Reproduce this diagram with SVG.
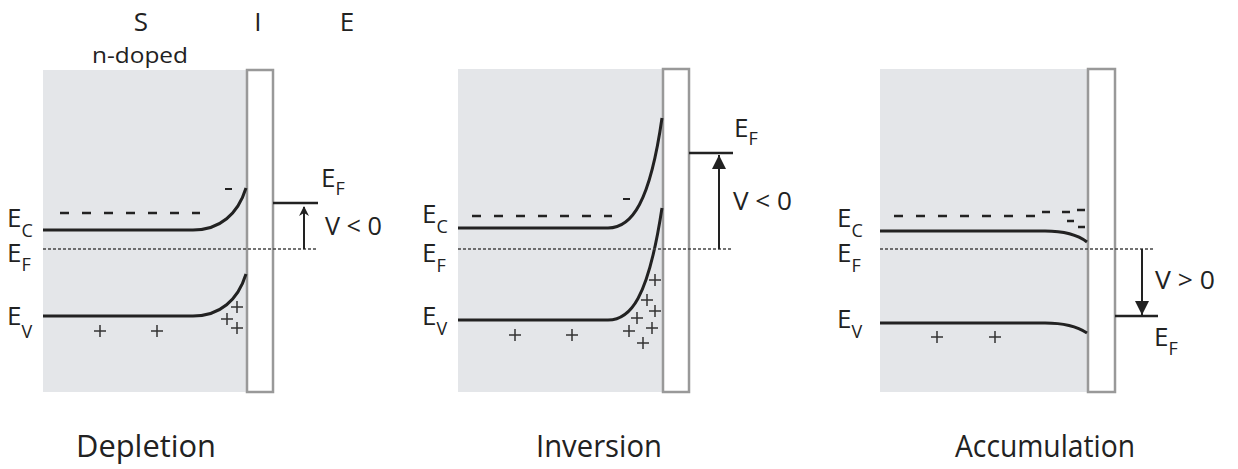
<svg xmlns="http://www.w3.org/2000/svg" width="1238" height="469" viewBox="0 0 1238 469">
<style>
text{font-family:"Open Sans","Liberation Sans",sans-serif;fill:#222}
.big{font-size:26px}
.lab{font-size:26px}
.sub{font-size:18px}
.cap{font-size:31px}
.v{font-size:25px}
.semi{fill:#e4e6e9}
.ins{fill:#fff;stroke:#999;stroke-width:2.5}
.band{fill:none;stroke:#222;stroke-width:3}
.dash{fill:none;stroke:#222;stroke-width:2.5;stroke-dasharray:9 13}
.ef{fill:none;stroke:#444;stroke-width:1.4;stroke-dasharray:3 2}
.lvl{fill:none;stroke:#222;stroke-width:2.5}
.pl{fill:none;stroke:#333;stroke-width:1.5}
.arr{fill:none;stroke:#222;stroke-width:2}
</style>
<defs>
<marker id="ahS" markerWidth="10" markerHeight="10" refX="9" refY="5" orient="auto" markerUnits="userSpaceOnUse"><path d="M0,0 L10,5 L0,10 L3,5 Z" fill="#222"/></marker>
<marker id="ahL" markerWidth="14" markerHeight="14" refX="14" refY="7" orient="auto" markerUnits="userSpaceOnUse"><path d="M0,0 L14,7 L0,14 Z" fill="#222"/></marker>
<path id="plus" d="M-6,0 H6 M0,-6 V6" class="pl"/>
</defs>

<g id="header">
<text class="big" x="141" y="31" text-anchor="middle">S</text>
<text class="big" x="258" y="31" text-anchor="middle">I</text>
<text class="big" x="347" y="31" text-anchor="middle">E</text>
<text x="140" y="63" text-anchor="middle" style="font-size:22px" textLength="96" lengthAdjust="spacingAndGlyphs">n-doped</text>
</g>

<g id="panel-depletion">
<rect class="semi" x="43" y="70" width="204" height="322"/>
<rect class="ins" x="247" y="70" width="26" height="322"/>
<line class="dash" x1="60" y1="213" x2="200" y2="213"/>
<path class="band" d="M43,230 H193 C220,230 238,214 246,188"/>
<path class="band" d="M43,316 H193 C220,316 238,300 246,274"/>
<line class="ef" x1="43" y1="249" x2="318" y2="249"/>
<line class="lvl" x1="273" y1="203" x2="318" y2="203"/>
<line x1="225" y1="189" x2="232" y2="189" stroke="#222" stroke-width="2"/>
<use href="#plus" x="100" y="331"/>
<use href="#plus" x="157" y="331"/>
<use href="#plus" x="237" y="307"/>
<use href="#plus" x="227" y="319"/>
<use href="#plus" x="237" y="328"/>
<text class="lab" x="7" y="227">E<tspan class="sub" dy="10">C</tspan></text>
<text class="lab" x="7" y="262">E<tspan class="sub" dy="9">F</tspan></text>
<text class="lab" x="7" y="325">E<tspan class="sub" dy="13">V</tspan></text>
<text class="lab" x="321" y="187">E<tspan class="sub" dy="8">F</tspan></text>
<text class="v" x="325" y="235" textLength="57" lengthAdjust="spacingAndGlyphs">V &lt; 0</text>
<text class="cap" x="146" y="457" text-anchor="middle" textLength="140" lengthAdjust="spacingAndGlyphs">Depletion</text>
</g>

<g id="panel-inversion">
<rect class="semi" x="458" y="69" width="205" height="323"/>
<rect class="ins" x="663" y="69" width="26" height="323"/>
<line class="dash" x1="472" y1="216" x2="612" y2="216"/>
<path class="band" d="M458,228 H608 C632,228 650,202 662,118"/>
<path class="band" d="M458,320 H608 C630,320 648,300 662,208"/>
<line class="ef" x1="458" y1="249" x2="733" y2="249"/>
<line class="lvl" x1="689" y1="153" x2="733" y2="153"/>
<line x1="623" y1="199" x2="630" y2="199" stroke="#222" stroke-width="2"/>
<use href="#plus" x="515" y="335"/>
<use href="#plus" x="572" y="335"/>
<use href="#plus" x="655" y="280"/>
<use href="#plus" x="647" y="300"/>
<use href="#plus" x="655" y="311"/>
<use href="#plus" x="637" y="318"/>
<use href="#plus" x="652" y="328"/>
<use href="#plus" x="629" y="331"/>
<use href="#plus" x="643" y="343"/>
<text class="lab" x="422" y="223">E<tspan class="sub" dy="10">C</tspan></text>
<text class="lab" x="422" y="262">E<tspan class="sub" dy="10">F</tspan></text>
<text class="lab" x="422" y="325">E<tspan class="sub" dy="10">V</tspan></text>
<text class="lab" x="734" y="137">E<tspan class="sub" dy="8">F</tspan></text>
<text class="v" x="733" y="210" textLength="59" lengthAdjust="spacingAndGlyphs">V &lt; 0</text>
<text class="cap" x="599" y="457" text-anchor="middle" textLength="126" lengthAdjust="spacingAndGlyphs">Inversion</text>
</g>

<g id="panel-accumulation">
<rect class="semi" x="880" y="69" width="208" height="323"/>
<rect class="ins" x="1088" y="69" width="27" height="323"/>
<line class="dash" x1="894" y1="216" x2="1036" y2="216"/>
<path d="M1042,212 H1050 M1062,212 H1070 M1077,210 H1085 M1067,221 H1074 M1078,227 H1085" fill="none" stroke="#222" stroke-width="2.5"/>
<path class="band" d="M880,231 H1045 C1065,231 1078,235 1087,242"/>
<path class="band" d="M880,323 H1045 C1065,323 1078,327 1087,333"/>
<line class="ef" x1="880" y1="249" x2="1153" y2="249"/>
<line class="lvl" x1="1115" y1="316" x2="1158" y2="316"/>
<use href="#plus" x="937" y="337"/>
<use href="#plus" x="995" y="337"/>
<text class="lab" x="837" y="227">E<tspan class="sub" dy="10">C</tspan></text>
<text class="lab" x="837" y="262">E<tspan class="sub" dy="10">F</tspan></text>
<text class="lab" x="837" y="328">E<tspan class="sub" dy="10">V</tspan></text>
<text class="lab" x="1154" y="346">E<tspan class="sub" dy="9">F</tspan></text>
<text class="v" x="1155" y="289" textLength="60" lengthAdjust="spacingAndGlyphs">V &gt; 0</text>
<text class="cap" x="1045" y="457" text-anchor="middle" textLength="180" lengthAdjust="spacingAndGlyphs">Accumulation</text>
</g>

<g id="connectors">
<line class="arr" x1="304" y1="249" x2="304" y2="207" marker-end="url(#ahS)"/>
<line class="arr" x1="719" y1="249" x2="719" y2="155" marker-end="url(#ahL)"/>
<line class="arr" x1="1142" y1="249" x2="1142" y2="315" marker-end="url(#ahL)"/>
</g>
</svg>
